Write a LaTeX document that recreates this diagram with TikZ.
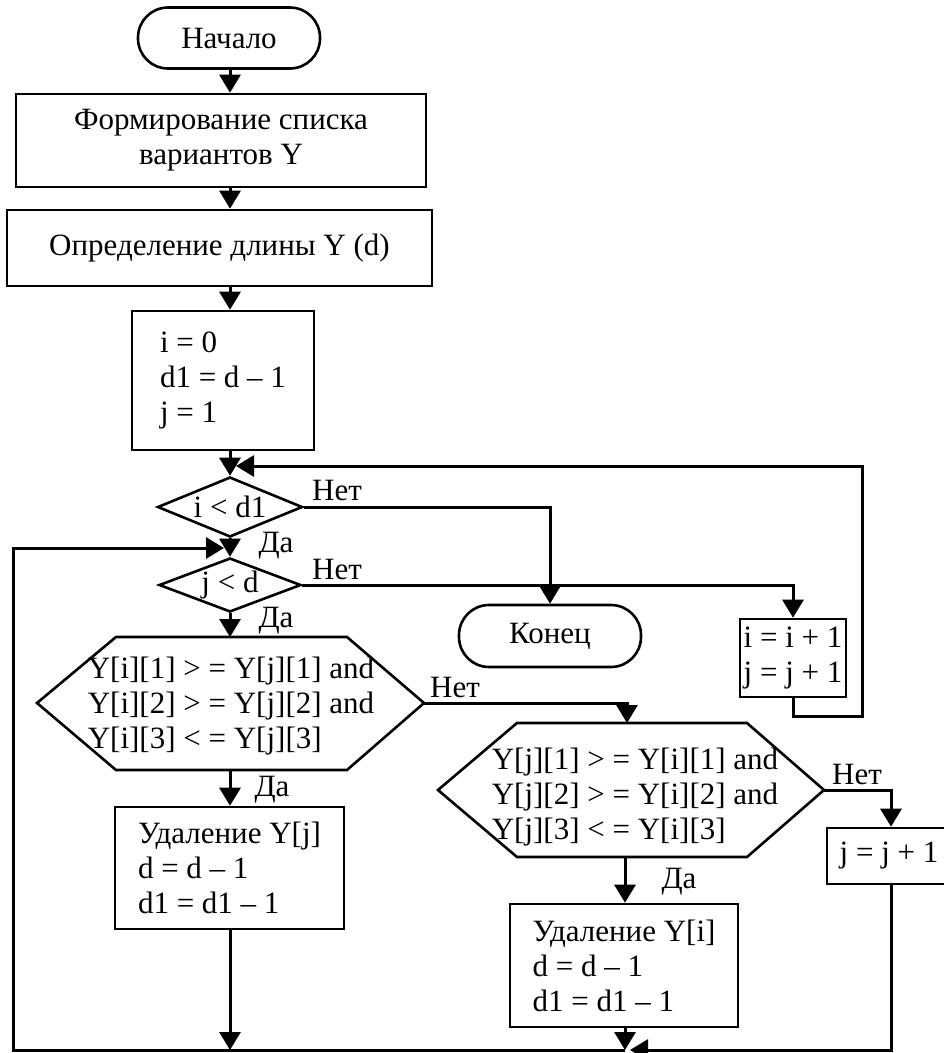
\documentclass[tikz,border=0pt]{standalone}
\usepackage{fontspec}
\setmainfont{Liberation Serif}
\usetikzlibrary{arrows.meta,shapes.geometric}
\begin{document}
\begin{tikzpicture}[x=1pt,y=-1pt,
  font=\fontsize{31}{35}\selectfont,
  box/.style={draw,line width=2.6pt,inner sep=0pt},
  term/.style={draw,line width=2.6pt,rounded corners=30pt,minimum width=182pt,minimum height=61pt,inner sep=0pt},
  dia/.style={draw,diamond,aspect=2.4,line width=2.6pt,inner sep=0pt},
  lbl/.style={inner sep=0pt},
  conn/.style={line width=3pt},
  arr/.style={conn,-{Triangle[length=18pt,width=21pt]}},
  hexline/.style={line width=2.6pt,line join=miter}
]
\useasboundingbox (0,0) rectangle (944,1053);
\coordinate (ax) at (230,0);

% nodes
\node[term] (start) at (229,38) {Начало};
\node[box,minimum width=410pt,minimum height=93pt,align=center] (b1) at (221,140.5) {Формирование списка\\вариантов Y};
\node[box,minimum width=425pt,minimum height=76pt] (b2) at (219.5,248) {Определение длины Y (d)};
\node[box,minimum width=182pt,minimum height=139pt,align=left] (b3) at (223,380.5) {i = 0\\d1 = d – 1\\j = 1};
\node[dia,minimum width=145pt,minimum height=60pt] (d1) at (230,507) {i < d1};
\node[dia,minimum width=142pt,minimum height=54pt] (d2) at (230,585) {j < d};
\node[term,minimum height=62pt] (end) at (550,636) {Конец};
\node[box,minimum width=106pt,minimum height=78pt,align=left] (inc) at (793,658) {i = i + 1\\j = j + 1};

% hexagon 1
\coordinate (h1w) at (37,703);
\coordinate (h1e) at (424,703);
\coordinate (h1n) at (230,637);
\coordinate (h1s) at (230,770);
\draw[hexline] (h1w) -- (116,637) -- (347,637) -- (h1e) -- (347,770) -- (116,770) -- cycle;
\node[lbl,align=left] (h1) at (231,706) {Y[i][1] > = Y[j][1] and\\Y[i][2] > = Y[j][2] and\\Y[i][3] < = Y[j][3]};

% hexagon 2
\coordinate (h2w) at (438,790);
\coordinate (h2e) at (824,790);
\coordinate (h2n) at (627,723);
\coordinate (h2s) at (625,857);
\draw[hexline] (h2w) -- (517,723) -- (747,723) -- (h2e) -- (747,857) -- (517,857) -- cycle;
\node[lbl,align=left] (h2) at (635,797) {Y[j][1] > = Y[i][1] and\\Y[j][2] > = Y[i][2] and\\Y[j][3] < = Y[i][3]};

\node[box,minimum width=229pt,minimum height=122pt,align=left] (delj) at (229.5,868) {Удаление Y[j]\\d = d – 1\\d1 = d1 – 1};
\node[box,minimum width=228pt,minimum height=123pt,align=left] (deli) at (624,965.5) {Удаление Y[i]\\d = d – 1\\d1 = d1 – 1};
\node[box,minimum width=124pt,minimum height=56pt] (incj) at (889,856) {j = j + 1};

% labels
\node[lbl] (n1) at (337,490) {Нет};
\node[lbl] (y1) at (276,546) {Да};
\node[lbl] (n2) at (337,569) {Нет};
\node[lbl] (y2) at (276,621) {Да};
\node[lbl] (n3) at (455,687) {Нет};
\node[lbl] (y3) at (272,790) {Да};
\node[lbl] (n4) at (857,774) {Нет};
\node[lbl] (y4) at (679,882) {Да};

% helper coordinates
\coordinate (r1) at (862,716);
\coordinate (r2) at (862,466);
\coordinate (d1in) at (236,466);
\coordinate (bl) at (13,1050);
\coordinate (bltop) at (13,548);
\coordinate (d2in) at (224,548);
\coordinate (jx) at (891,0);
\coordinate (blr) at (630,1050);

% connectors
\draw[arr] (start.south -| ax) -- (b1.north -| ax);
\draw[arr] (b1.south -| ax) -- (b2.north -| ax);
\draw[arr] (b2.south -| ax) -- (b3.north -| ax);
\draw[arr] (b3.south -| ax) -- (d1.north);
\draw[arr] (d1.east) -| (end.north);
\draw[arr] (d1.south) -- (d2.north);
\draw[arr] (d2.east) -| (inc.north);
\draw[arr] (d2.south) -- (h1n);
\draw[arr] (h1e) -| (h2n);
\draw[arr] (h1s) -- (delj.north -| h1s);
\draw[arr] (h2e) -| (incj.north -| jx);
\draw[arr] (h2s) -- (deli.north -| h2s);
\draw[arr] (inc.south) |- (r1) -- (r2) -- (d1in);
\draw[arr] (delj.south -| ax) -- (bl -| ax);
\draw[arr] (deli.south -| h2s) -- (bl -| h2s);
\draw[arr] (incj.south -| jx) |- (blr);
\draw[arr] (bl -| h2s) -- (bl) -- (bltop) -- (d2in);
\end{tikzpicture}
\end{document}
